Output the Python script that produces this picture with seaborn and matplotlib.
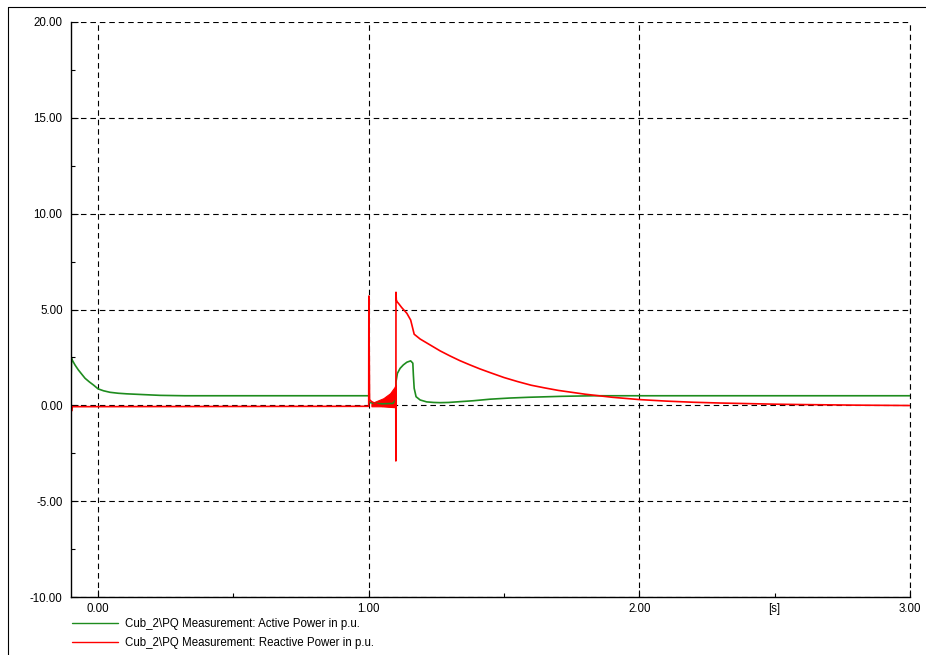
import numpy as np
import pandas as pd
import matplotlib
matplotlib.use('Agg')
import matplotlib.pyplot as plt
from matplotlib.ticker import FixedLocator, FixedFormatter
from matplotlib.lines import Line2D
import seaborn as sns

# --- datos ---
# potencia activa (verde)
t_p = [-0.100, -0.098, -0.095, -0.085, -0.073, -0.060, -0.048, -0.032, -0.017, 0.000,
       0.020, 0.044, 0.075, 0.106, 0.167, 0.230, 0.320, 1.000,
       1.003, 1.020, 1.050, 1.090, 1.100, 1.101, 1.106, 1.116, 1.128, 1.141, 1.155,
       1.163, 1.165, 1.168, 1.175, 1.190, 1.214, 1.240, 1.264, 1.295, 1.325, 1.387,
       1.448, 1.520, 1.590, 1.713, 1.836, 2.000, 3.000]
p_val = [1.20, 2.45, 2.35, 2.10, 1.85, 1.62, 1.41, 1.22, 1.06, 0.86,
         0.76, 0.68, 0.63, 0.60, 0.56, 0.52, 0.50, 0.50,
         0.15, 0.10, 0.08, 0.10, 0.30, 1.24, 1.67, 1.93, 2.11, 2.25, 2.32,
         2.20, 1.59, 0.89, 0.45, 0.28, 0.18, 0.15, 0.14, 0.15, 0.18, 0.24,
         0.32, 0.38, 0.42, 0.47, 0.50, 0.50, 0.50]

# potencia reactiva (rojo)
t_q = [-0.100, -0.098, -0.095, 1.000, 1.0005, 1.003, 1.010, 1.023, 1.050, 1.099,
       1.100, 1.1003, 1.1008, 1.102, 1.105, 1.110, 1.122, 1.141, 1.155, 1.161, 1.168,
       1.190, 1.227, 1.264, 1.300, 1.337, 1.374, 1.411, 1.448, 1.500, 1.550, 1.600,
       1.650, 1.700, 1.800, 1.900, 2.000, 2.100, 2.200, 2.300, 2.400, 2.500, 2.600,
       2.800, 3.000]
q_val = [-0.05, -0.30, -0.07, -0.05, 5.70, 0.30, 0.20, 0.10, -0.05, -0.08,
         1.00, -2.90, 5.90, 5.50, 5.40, 5.32, 5.10, 4.80, 4.45, 4.11, 3.71,
         3.46, 3.15, 2.84, 2.58, 2.33, 2.11, 1.90, 1.71, 1.45, 1.24, 1.05,
         0.91, 0.78, 0.58, 0.42, 0.30, 0.22, 0.16, 0.12, 0.09, 0.06, 0.04,
         0.01, -0.01]

# envolvente de la oscilacion entre 1.0 y 1.1 s
t_osc = [1.010, 1.023, 1.054, 1.079, 1.097, 1.100]
osc_hi = [0.10, 0.19, 0.37, 0.63, 0.98, 1.02]
osc_lo = [-0.05, -0.05, -0.05, -0.08, -0.10, -0.10]

lbl_p = 'Cub_2\\PQ Measurement: Active Power in p.u.'
lbl_q = 'Cub_2\\PQ Measurement: Reactive Power in p.u.'
x_ticks = [0, 1, 2, 3]
x_labels = ['0.00', '1.00', '2.00', '3.00']
y_ticks = [-10, -5, 0, 5, 10, 15, 20]
y_labels = ['-10.00', '-5.00', '0.00', '5.00', '10.00', '15.00', '20.00']

verde = '#1e8c1e'
rojo = '#ff0000'

sns.set_style('white')
plt.rcParams['font.family'] = ['Liberation Sans', 'DejaVu Sans']
plt.rcParams['font.size'] = 8.3
plt.rcParams['text.color'] = 'black'
plt.rcParams['xtick.color'] = 'black'
plt.rcParams['ytick.color'] = 'black'

fig = plt.figure(figsize=(9.26, 6.55), dpi=100)
ax = fig.add_axes([71 / 926, 1 - 597 / 655, (910 - 71) / 926, (597 - 22) / 655])

df_p = pd.DataFrame({'t': t_p, 'v': p_val})
df_q = pd.DataFrame({'t': t_q, 'v': q_val})

sns.lineplot(data=df_p, x='t', y='v', ax=ax, color=verde, lw=1.2,
             estimator=None, sort=False, legend=False)
ax.fill_between(t_osc, osc_lo, osc_hi, color=rojo, lw=0.8, edgecolor=rojo)
sns.lineplot(data=df_q, x='t', y='v', ax=ax, color=rojo, lw=1.2,
             estimator=None, sort=False, legend=False)

ax.set_xlim(-0.1, 3.0)
ax.set_ylim(-10, 20)
ax.set_xlabel('')
ax.set_ylabel('')

ax.set_xticks(x_ticks)
ax.set_xticklabels(x_labels)
ax.set_yticks(y_ticks)
ax.set_yticklabels(y_labels)
ax.xaxis.set_minor_locator(FixedLocator([0.5, 1.5, 2.5]))
ax.xaxis.set_minor_formatter(FixedFormatter(['', '', '[s]']))
ax.yaxis.set_minor_locator(FixedLocator([-7.5, -2.5, 2.5, 7.5, 12.5, 17.5]))

ax.tick_params(which='major', direction='in', length=5, width=0.8, color='black',
               labelsize=8.3, labelcolor='black', pad=6)
ax.tick_params(which='minor', direction='in', length=3, width=0.8, color='black',
               labelsize=8.3, labelcolor='black', pad=6)
ax.tick_params(axis='x', which='both', pad=4.5, bottom=True)
ax.tick_params(axis='y', which='both', left=True)

for s in ['top', 'right']:
    ax.spines[s].set_visible(False)
for s in ['left', 'bottom']:
    ax.spines[s].set_color('black')
    ax.spines[s].set_linewidth(1.0)

ax.grid(True, which='major', color='black', linestyle=(0, (5, 3.5)), lw=0.8)
ax.axvline(3.0, color='black', linestyle=(0, (5, 3.5)), lw=0.8, clip_on=False, zorder=0.5)
ax.set_axisbelow(True)

# marco exterior
fig.add_artist(Line2D([8 / 926, 8 / 926], [0, 1 - 7 / 655], color='black', lw=0.8))
fig.add_artist(Line2D([8 / 926, 1], [1 - 7 / 655, 1 - 7 / 655], color='black', lw=0.8))

handles = [Line2D([], [], color=verde, lw=1.0), Line2D([], [], color=rojo, lw=1.0)]
fig.legend(handles, [lbl_p, lbl_q], loc='upper left',
           bbox_to_anchor=(72 / 926, 1 - 618 / 655), frameon=False,
           fontsize=8.3, handlelength=4.0, handletextpad=0.6, labelspacing=0.6,
           borderpad=0, borderaxespad=0)

fig.savefig('out.png', dpi=100)
